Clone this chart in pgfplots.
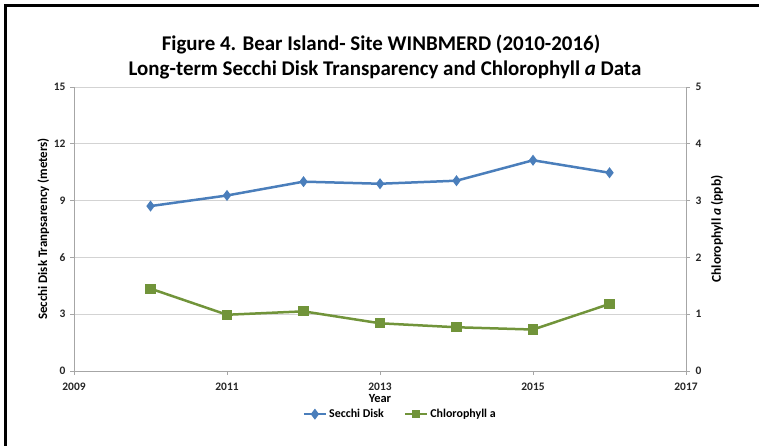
\documentclass[border=0pt]{standalone}
\usepackage{pgfplots}
\pgfplotsset{compat=1.18}
\usepackage{fontspec}
\setmainfont{Carlito}
\definecolor{sblue}{HTML}{4A7EBB}
\definecolor{cgreen}{HTML}{71943A}
\definecolor{axgray}{HTML}{A6A6A6}
\definecolor{gridgray}{HTML}{D3D3D3}
\begin{document}
\begin{tikzpicture}[x=1bp,y=1bp]
\useasboundingbox (0,0) rectangle (759,446);
\draw[line width=3bp] (5.5,0) -- (5.5,440.5) -- (759,440.5);
\node[font=\bfseries\fontsize{21}{24}\selectfont, anchor=base] at (381,395) {Figure 4. Bear Island- Site WINBMERD (2010-2016)};
\node[font=\bfseries\fontsize{21}{24}\selectfont, anchor=base] at (385,370) {Long-term Secchi Disk Transparency and Chlorophyll \textit{a} Data};
\begin{axis}[at={(74bp,75bp)}, anchor=south west, width=612bp, height=284bp, scale only axis,
  xmin=2009, xmax=2017, ymin=0, ymax=15,
  xtick={2009,2011,2013,2015,2017}, ytick={0,3,6,9,12,15},
  axis x line*=bottom, axis y line*=left,
  axis line style={axgray, line width=0.9bp, -},
  tick style={axgray, line width=0.9bp},
  tick align=outside, major tick length=4bp,
  ymajorgrids, grid style={gridgray, line width=0.7bp},
  /pgf/number format/1000 sep={},
  /pgf/number format/assume math mode=true,
  tick label style={font=\bfseries\fontsize{11.5}{13}\selectfont, text=black!85},
  xticklabel style={yshift=-4bp},
  yticklabel style={xshift=-1bp},
  xlabel={Year}, ylabel={Secchi Disk Tranpsarency (meters)},
  xlabel style={font=\bfseries\fontsize{12.5}{14}\selectfont, at={(axis description cs:0.5,-0.098)}, anchor=center},
  ylabel style={font=\bfseries\fontsize{13}{15}\selectfont, at={(axis description cs:-0.05,0.5)}, anchor=center, rotate=0},
  legend style={at={(0.533,-0.152)}, anchor=center, draw=none, fill=none, font=\bfseries\fontsize{12}{14}\selectfont, /tikz/every even column/.append style={column sep=18bp}},
  legend columns=2,
  legend image code/.code={\draw[#1] (0bp,0bp) -- (11bp,0bp) plot coordinates {(11bp,0bp)} -- (22bp,0bp);},
]
\addplot[sblue, line width=2.5bp, mark=diamond*, mark size=3.5bp, mark options={solid}] coordinates {
(2010,8.71) (2011,9.27) (2012,10.0) (2013,9.89) (2014,10.05) (2015,11.13) (2016,10.47)};
\addlegendentry{Secchi Disk}
\addlegendimage{cgreen, line width=2.5bp, mark=square*, mark size=3bp}
\addlegendentry{Chlorophyll a}
\end{axis}
\begin{axis}[at={(74bp,75bp)}, anchor=south west, width=612bp, height=284bp, scale only axis,
  xmin=2009, xmax=2017, ymin=0, ymax=5,
  ytick={0,1,2,3,4,5},
  axis x line=none, axis y line*=right,
  axis line style={axgray, line width=0.9bp, -},
  tick style={axgray, line width=0.9bp},
  tick align=outside, major tick length=4bp,
  /pgf/number format/assume math mode=true,
  tick label style={font=\bfseries\fontsize{11.5}{13}\selectfont, text=black!85},
  yticklabel style={xshift=2bp},
  ylabel={Chlorophyll \textit{a} (ppb)},
  ylabel style={font=\bfseries\fontsize{13.5}{15}\selectfont, at={(axis description cs:1.0507,0.5)}, anchor=center, rotate=0},
]
\addplot[cgreen, line width=2.5bp, mark=square*, mark size=3.8bp, mark options={solid}] coordinates {
(2010,1.45) (2011,0.99) (2012,1.05) (2013,0.84) (2014,0.77) (2015,0.73) (2016,1.18)};
\end{axis}
\end{tikzpicture}
\end{document}
